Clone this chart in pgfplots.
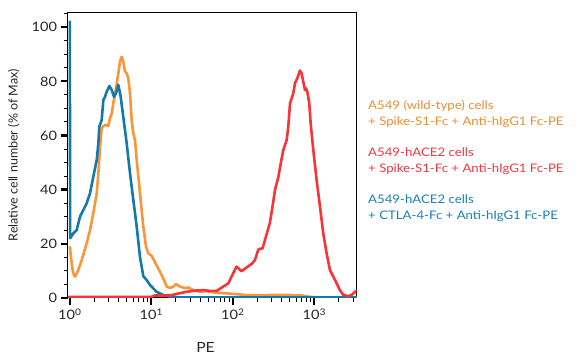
\documentclass[border=0pt]{standalone}
\usepackage{fontspec}
\setmainfont{Lato}[FakeStretch=1.12]
\newfontfamily\plainlato{Lato}
\usepackage{pgfplots}
\pgfplotsset{compat=1.18}
\definecolor{cOr}{RGB}{247,150,58}
\definecolor{cRd}{RGB}{247,52,55}
\definecolor{cBl}{RGB}{21,120,170}
\definecolor{tOr}{RGB}{236,140,50}
\definecolor{tRd}{RGB}{240,55,60}
\definecolor{tBl}{RGB}{25,128,180}
\begin{document}
\begin{tikzpicture}
\begin{axis}[
  at={(68bp,65.3bp)}, anchor=south west,
  scale only axis, width=288.5bp, height=285bp,
  xmode=log, xmin=0.95, xmax=3300, ymin=0, ymax=105.4,
  xtick={1,10,100,1000},
  xticklabels={10\textsuperscript{0},10\textsuperscript{1},10\textsuperscript{2},10\textsuperscript{3}},
  minor xtick={2,3,4,5,6,7,8,9,20,30,40,50,60,70,80,90,200,300,400,500,600,700,800,900,2000,3000},
  ytick={0,20,40,60,80,100},
  minor ytick={5,10,15,25,30,35,45,50,55,65,70,75,85,90,95,105},
  tick pos=left, tick align=outside,
  major tick length=7.5bp, minor tick length=4.5bp,
  major tick style={line width=2.2bp, black},
  minor tick style={line width=0.9bp, black},
  axis line style={line width=1bp, black},
  ticklabel style={font=\fontsize{13bp}{15bp}\selectfont, text=black!85},
  /pgf/number format/assume math mode=true,
  clip=true,
]
\addplot[cOr, line width=2.6bp, line join=round, mark=none] coordinates {
(1.0,19) (1.06,12) (1.104,9.0) (1.158,7.8) (1.27,10.2) (1.40,13.9) (1.61,20.1)
(1.77,25.0) (1.94,31.2) (2.14,38.6) (2.24,46.0) (2.35,55.8) (2.46,62.6) (2.58,63.5)
(2.78,63.9) (2.97,63.5) (3.11,66.3) (3.27,68.2) (3.42,71.9) (3.59,75.6) (3.77,79.3)
(3.94,83.0) (4.13,87.3) (4.33,89.1) (4.53,87.3) (4.76,83.6) (4.99,83.0) (5.22,81.1)
(5.48,75.6) (5.74,65.7) (6.02,60.8) (6.31,58.3) (6.62,50.9) (7.27,38.6) (7.98,26.3)
(8.61,18.9) (9.19,16.4) (10.1,15.5) (11.6,12.0) (13.4,8.4) (15.5,4.1) (16.9,3.6)
(18.6,4.1) (20.1,5.0) (22.5,4.1) (25.9,3.5) (28.5,3.8) (32.7,2.8) (39.6,2.2)
(47.8,2.4) (63.4,1.8) (84,1.6) (122,1.2) (150,0.9) (200,0.9) (300,1.0) (500,1.0)
(700,0.8) (900,0.3) (1200,0.1) (3400,0.1)
};
\addplot[cBl, line width=2.6bp, line join=round, mark=none] coordinates {
(1.0,102.5) (1.01,22.0) (1.104,23.8) (1.215,25.0) (1.334,30.0) (1.465,32.4) (1.61,34.9)
(1.77,38.6) (1.94,44.7) (2.14,50.9) (2.24,57.1) (2.30,63.2) (2.46,65.7) (2.58,73.1)
(2.70,74.3) (2.84,76.2) (3.06,78.3) (3.27,76.8) (3.49,74.3) (3.69,75.6) (3.94,78.7)
(4.21,74.3) (4.53,66.9) (4.99,57.1) (5.48,46.0) (6.02,36.1) (6.62,26.3) (7.27,15.0)
(7.98,8.0) (8.78,6.5) (9.64,4.7) (11.6,2.2) (14.0,1.0) (16.9,0.4) (22.5,0.1) (3400,0.1)
};
\addplot[cRd, line width=2.6bp, line join=round, mark=none] coordinates {
(0.95,0.3) (10,0.3) (11,0.8) (16.9,0.8) (20.5,1.4) (23.6,1.8) (27.2,2.2) (34.4,2.6)
(43.5,2.8) (52.5,2.5) (63.4,2.5) (76.4,4.1) (88.1,5.3) (101,9.0) (111,11.5) (128,9.8)
(148,11.2) (171,12.5) (187,13.9) (206,17.9) (233,18.3) (248,21.3) (286,27.8) (314,35.5)
(330,40.0) (362,44.5) (379,48.0) (417,54.6) (458,58.3) (480,63.2) (504,71.9) (528,73.7)
(553,75.6) (580,79.3) (619,81.1) (667,84.0) (700,83.0) (733,79.9) (769,76.8) (791,77.4)
(821,76.2) (869,71.9) (903,64.5) (973,54.6) (1069,43.5) (1175,33.7) (1290,23.8)
(1418,16.4) (1559,10.2) (1711,7.8) (1882,5.3) (2067,2.8) (2270,1.0) (2613,0.6)
(2875,1.0) (3160,2.2) (3400,2.5)
};
\end{axis}
\node[rotate=90, anchor=base, font=\plainlato\fontsize{12.5bp}{15bp}\selectfont, text=black!85] at (17.7bp,207.8bp) {Relative cell number (\% of Max)};
\node[anchor=base, font=\fontsize{14bp}{16bp}\selectfont, text=black!85] at (205.5bp,10.7bp) {PE};
\begin{scope}[every node/.style={anchor=base west, inner sep=0pt, font=\fontsize{11.8bp}{14bp}\selectfont}]
\node[text=tOr] at (368bp,253.7bp) {A549 (wild-type) cells};
\node[text=tOr] at (368bp,237.3bp) {+ Spike-S1-Fc + Anti-hIgG1 Fc-PE};
\node[text=tRd] at (368bp,206.3bp) {A549-hACE2 cells};
\node[text=tRd] at (368bp,190.3bp) {+ Spike-S1-Fc + Anti-hIgG1 Fc-PE};
\node[text=tBl] at (368bp,159.7bp) {A549-hACE2 cells};
\node[text=tBl] at (368bp,143.7bp) {+ CTLA-4-Fc + Anti-hIgG1 Fc-PE};
\end{scope}
\pgfresetboundingbox
\path[use as bounding box] (0,0) rectangle (582bp,363bp);
\end{tikzpicture}
\end{document}
